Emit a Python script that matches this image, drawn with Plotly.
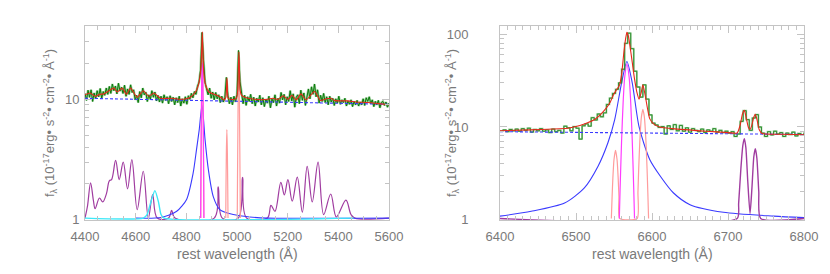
import numpy as np
import plotly.graph_objects as go

# ---------------- LEFT PANEL (H-beta region) ----------------
GREEN_L_START, GREEN_L_STEP = 4400, 6
green_l = [
    11.2, 9.8, 11.9, 10.4, 12.0, 9.6, 11.3, 10.1, 11.8, 10.5,
    12.3, 10.2, 11.6, 10.8, 12.4, 11.0, 12.8, 11.2, 13.4, 11.8,
    12.9, 11.1, 13.6, 11.7, 12.6, 11.2, 13.1, 10.6, 12.2, 11.0,
    13.2, 11.4, 12.0, 9.9, 10.8, 9.4, 11.6, 10.3, 12.4, 10.9,
    11.5, 9.6, 10.9, 10.0, 11.8, 10.4, 11.5, 9.7, 10.8, 9.5,
    10.6, 9.3, 10.9, 9.8, 10.5, 9.2, 10.7, 9.6, 10.4, 9.0,
    10.3, 9.4, 10.6, 8.8, 10.1, 9.3, 10.5, 9.1, 10.7, 10.0,
    11.2, 10.3, 11.6, 11.0, 12.8, 13.9, 17.5, 36.0, 21.0, 13.8,
    12.2, 10.9, 12.4, 10.2, 11.5, 9.9, 11.4, 10.1, 10.9, 9.4,
    10.6, 9.5, 10.3, 15.2, 10.8, 9.2, 10.4, 9.0, 10.6, 9.5,
    11.0, 25.5, 14.0, 10.6, 9.2, 10.8, 8.9, 10.5, 9.6, 11.0,
    9.2, 10.4, 8.8, 10.2, 9.5, 10.8, 9.0, 10.3, 8.7, 10.0,
    9.3, 10.6, 8.5, 10.1, 9.4, 10.9, 8.8, 10.2, 9.3, 11.4,
    9.9, 11.0, 9.0, 10.5, 9.6, 11.8, 9.7, 11.1, 8.6, 10.4,
    10.9, 9.2, 11.9, 9.8, 11.3, 8.9, 10.6, 12.2, 10.1, 12.7,
    11.0, 13.4, 10.5, 12.0, 9.3, 10.8, 9.6, 11.2, 9.4, 10.5,
    9.0, 10.6, 9.5, 10.2, 8.9, 10.1, 9.3, 10.6, 9.1, 9.9,
    9.4, 10.2, 8.8, 9.7, 9.1, 9.9, 8.7, 9.6, 9.0, 9.8,
    8.8, 9.5, 9.0, 10.1, 8.9, 10.3, 9.6, 10.5, 9.2, 9.9,
    8.7, 9.6, 9.0, 9.8, 8.5, 9.4, 9.6, 8.9, 9.5, 8.6,
    9.3,
]

red_l_wave = [4400, 4420, 4440, 4458, 4475, 4495, 4514, 4527, 4547, 4564, 4580, 4606,
              4630, 4652, 4672, 4698, 4740, 4777, 4800, 4816, 4836, 4845, 4852, 4858,
              4861, 4863, 4865, 4868, 4873, 4880, 4889, 4916, 4935, 4950, 4956, 4959,
              4960.5, 4962, 4965, 4975, 4990, 4998, 5003, 5005, 5007.5, 5010, 5012,
              5018, 5031, 5070, 5122, 5140, 5162, 5182, 5201, 5217, 5234, 5253, 5273,
              5306, 5329, 5352, 5370, 5385, 5410, 5437, 5470, 5516, 5560, 5600]
red_l_flux = [10.9, 11.3, 10.6, 11.0, 11.1, 11.8, 12.4, 11.5, 12.4, 11.0, 12.4, 10.4,
              11.8, 10.6, 11.3, 10.2, 10.2, 10.0, 10.1, 10.4, 11.5, 12.6, 14.5, 19.0,
              27.0, 36.5, 27.0, 18.0, 14.0, 12.5, 11.5, 10.9, 10.4, 9.9, 10.4, 13.0,
              15.0, 13.0, 10.2, 10.0, 10.0, 10.3, 12.0, 17.0, 24.9, 17.0, 12.0,
              10.8, 10.4, 10.0, 10.0, 10.2, 10.0, 10.7, 10.0, 10.8, 9.9, 11.1, 9.9,
              11.6, 9.8, 10.1, 10.2, 9.8, 9.7, 9.7, 9.5, 9.4, 9.2, 9.0]

cont_l_wave = [4400, 5600]
cont_l_flux = [10.2, 9.1]

feii_wave = [4400, 4410, 4422, 4433, 4440, 4457, 4470, 4485, 4496, 4505, 4521, 4535,
             4551, 4568, 4585, 4606, 4630, 4650, 4667, 4685, 4730, 4742, 4755, 4910,
             4926, 4942, 5005, 5022, 5038, 5120, 5134, 5150, 5173, 5187, 5201, 5218,
             5238, 5258, 5277, 5297, 5320, 5342, 5370, 5392, 5430, 5450, 5465, 5600]
feii_flux = [1.0, 1.3, 2.02, 1.45, 1.23, 1.51, 1.4, 1.65, 2.1, 2.15, 3.1, 2.15,
             3.0, 1.8, 3.15, 1.21, 2.52, 1.02, 1.61, 1.0, 1.0, 1.19, 1.0, 1.0,
             1.87, 1.0, 1.0, 2.24, 1.0, 1.0, 1.31, 1.17, 2.04, 1.6, 2.15, 1.42,
             2.25, 1.15, 2.77, 1.4, 3.0, 1.1, 1.63, 1.05, 1.45, 1.1, 1.0, 1.0]

hb_broad_wave = [4600, 4700, 4762, 4801, 4827, 4840, 4851, 4862, 4874, 4887, 4906,
                 4932, 4985, 5050, 5120, 5600]
hb_broad_flux = [1.0, 1.04, 1.17, 1.47, 2.44, 3.8, 5.6, 9.0, 4.6, 2.6, 1.56,
                 1.21, 1.1, 1.05, 1.0, 1.0]

hb_narrow_wave = [4856.5, 4857.5, 4858.5, 4860, 4861.5, 4863, 4864.5, 4866, 4867.5, 4868.5, 4869.5]
hb_narrow_flux = [1.0, 2.3, 4.75, 10.5, 17.0, 20.0, 17.0, 10.5, 4.75, 2.3, 1.0]

hb_core_wave = [4857, 4858, 4860, 4861.5, 4863, 4864.5, 4866, 4868, 4869]
hb_core_flux = [1.0, 2.5, 9.0, 19.0, 26.0, 19.0, 9.0, 2.5, 1.0]

oiii4959_wave = [4955.5, 4956.5, 4958, 4960, 4962, 4963.5, 4964.5]
oiii4959_flux = [1.0, 1.8, 3.6, 5.6, 3.6, 1.8, 1.0]

oiii5007_wave = [5001, 5002, 5003.5, 5005, 5007, 5009, 5010.5, 5012, 5013]
oiii5007_flux = [1.0, 2.2, 5.5, 13.0, 24.0, 13.0, 5.5, 2.2, 1.0]

heii_wave = [4400, 4630, 4645, 4660, 4676, 4690, 4700, 4712, 5460]
heii_flux = [1.0, 1.0, 1.1, 1.4, 1.74, 1.4, 1.1, 1.0, 1.0]

# ---------------- RIGHT PANEL (H-alpha region) ----------------
GREEN_R_START, GREEN_R_STEP = 6400, 4
green_r = [
    9.0, 9.3, 8.9, 9.4, 9.1, 9.5, 9.0, 9.6, 9.2, 9.7,
    8.8, 9.4, 9.1, 9.6, 9.0, 9.3, 8.7, 9.5, 8.9, 9.2,
    8.6, 10.2, 9.8, 9.1, 10.1, 9.7, 7.4, 10.3, 10.8, 10.2,
    12.6, 11.9, 13.8, 12.9, 14.2, 17.5, 20.5, 23.0, 25.5, 30.0,
    42.0, 80.0, 103.0, 70.0, 40.0, 27.0, 21.0, 28.5, 20.0, 13.5,
    11.0, 10.5, 9.9, 10.1, 8.4, 10.3, 9.4, 10.6, 9.1, 10.4,
    9.0, 9.8, 8.8, 9.6, 9.2, 8.9, 9.5, 8.7, 9.3, 9.0,
    9.6, 8.8, 9.2, 8.7, 9.0, 8.6, 8.9, 7.9, 8.4, 11.5,
    15.0, 12.0, 9.2, 12.5, 13.6, 10.0, 8.6, 7.9, 8.9, 8.2,
    9.0, 8.4, 8.7, 7.9, 8.6, 8.3, 8.8, 8.0, 8.5, 8.2,
    8.7,
]

red_r_wave = [6400, 6440, 6470, 6489, 6500, 6510, 6525, 6537, 6545, 6549, 6553, 6557,
              6560, 6563, 6565.5, 6567, 6569, 6571, 6574, 6577, 6580, 6583, 6585.5,
              6588, 6591, 6594, 6597, 6602, 6610, 6627, 6671, 6700, 6712, 6716, 6719,
              6721.5, 6724, 6727, 6729, 6731, 6734, 6736, 6738, 6741, 6745, 6770, 6800]
red_r_flux = [9.1, 9.3, 9.5, 9.7, 10.1, 10.7, 12.1, 15.0, 18.5, 22.0, 25.0, 28.0,
              37.0, 64.0, 92.0, 105.0, 95.0, 75.0, 50.0, 33.0, 24.0, 20.0, 23.0,
              28.5, 22.0, 16.0, 12.3, 10.8, 10.0, 9.6, 9.0, 8.7, 8.6, 10.5, 13.8,
              15.1, 12.5, 9.8, 9.4, 10.2, 12.8, 13.7, 12.2, 9.4, 8.5, 8.35, 8.25]

cont_r_wave = [6400, 6800]
cont_r_flux = [8.9, 8.3]

ha_broad_wave = [6400, 6441, 6485, 6511, 6529, 6542, 6551, 6560, 6567, 6574, 6583,
                 6597, 6611, 6628, 6650, 6694, 6760, 6800]
ha_broad_flux = [1.09, 1.23, 1.51, 2.2, 3.77, 6.76, 12.1, 30.0, 51.0, 30.0, 10.0,
                 4.46, 2.94, 1.95, 1.45, 1.2, 1.09, 1.05]

ha_narrow_wave = [6557, 6558, 6560, 6562, 6564, 6567, 6570, 6572, 6574, 6576, 6577]
ha_narrow_flux = [1.0, 2.1, 7.2, 18.3, 34.0, 48.0, 34.0, 18.3, 7.2, 2.1, 1.0]

nii_wave = [6546.5, 6547.5, 6548.5, 6550, 6552, 6554, 6555.5, 6556.5, 6557.5,
            6580.5, 6581.5, 6582.5, 6584, 6586, 6588, 6590, 6592, 6593.5, 6594.5, 6595.5]
nii_flux = [1.0, 1.77, 2.79, 4.46, 5.6, 4.46, 2.79, 1.77, 1.0,
            1.0, 1.97, 3.54, 7.1, 12.7, 15.5, 12.7, 7.1, 3.54, 1.97, 1.0]

sii_wave = [6400, 6712, 6714, 6717, 6719.5, 6721.5, 6723.5, 6726, 6729, 6731.5,
            6734, 6736, 6738, 6740.5, 6743, 6800]
sii_flux = [1.0, 1.0, 1.5, 3.6, 6.3, 7.47, 6.0, 2.6, 1.16, 2.2,
            4.8, 5.82, 4.6, 2.0, 1.0, 1.0]

# ---------------- styling ----------------
W, H = 830, 274
L_X0, L_X1 = 85, 389
R_X0, R_X1 = 500, 804
Y_TOP, Y_BOT = 26, 220
YR_L = [-0.004, 1.61]
YR_R = [-0.004, 2.09]

GREEN_DARK = "#0a7a0a"
GREEN_LIGHT = "rgba(40,150,40,0.45)"
RED = "#e8281c"
BLUE = "#3a3aff"
MAGENTA = "#ff3cff"
PINK = "#ff9c9c"
PURPLE = "#a03ca0"
CYAN = "#3ce8f8"
AXCOL = "#c4c4c4"
TXTCOL = "#7a7a7a"
FONT = "Liberation Sans"

fig = go.Figure()


def floor(vals, yr):
    # values below the axis minimum are drawn along the bottom edge
    f = 10 ** (yr[0] + 0.016)
    return np.maximum(np.asarray(vals, float), f)


def add(x, y, xa, ya, yr, color, width=1.0, shape="spline", dash=None, smoothing=0.8):
    fig.add_trace(go.Scatter(
        x=x, y=floor(y, yr), xaxis=xa, yaxis=ya, mode="lines",
        line=dict(color=color, width=width, shape=shape, dash=dash,
                  **({"smoothing": smoothing} if shape == "spline" else {})),
        hoverinfo="skip", showlegend=False))


# left panel traces
gl_x = GREEN_L_START + GREEN_L_STEP * np.arange(len(green_l))
add(feii_wave, feii_flux, "x", "y", YR_L, PURPLE, 1.2, smoothing=1.0)
add(hb_broad_wave, hb_broad_flux, "x", "y", YR_L, BLUE, 1.1, smoothing=0.7)
add(heii_wave, heii_flux, "x", "y", YR_L, CYAN, 1.4, smoothing=0.6)
add(hb_core_wave, hb_core_flux, "x", "y", YR_L, PINK, 1.2, smoothing=0.6)
add(oiii4959_wave, oiii4959_flux, "x", "y", YR_L, PINK, 1.2, smoothing=0.6)
add(oiii5007_wave, oiii5007_flux, "x", "y", YR_L, PINK, 1.2, smoothing=0.6)
add(hb_narrow_wave, hb_narrow_flux, "x", "y", YR_L, MAGENTA, 1.2, smoothing=0.6)
add(gl_x, green_l, "x", "y", YR_L, GREEN_LIGHT, 2.4, shape="linear")
add(gl_x, green_l, "x", "y", YR_L, GREEN_DARK, 1.0, shape="linear")
add(cont_l_wave, cont_l_flux, "x", "y", YR_L, BLUE, 1.1, shape="linear", dash="3px,2px")
add(red_l_wave, red_l_flux, "x", "y", YR_L, RED, 1.1, smoothing=0.6)

# right panel traces
gr_x = GREEN_R_START + GREEN_R_STEP * np.arange(len(green_r))
add(ha_broad_wave, ha_broad_flux, "x2", "y2", YR_R, BLUE, 1.1, smoothing=0.7)
add(nii_wave, nii_flux, "x2", "y2", YR_R, PINK, 1.2, smoothing=0.6)
add(ha_narrow_wave, ha_narrow_flux, "x2", "y2", YR_R, MAGENTA, 1.2, smoothing=0.6)
add(sii_wave, sii_flux, "x2", "y2", YR_R, PURPLE, 1.4, smoothing=0.6)
add(gr_x, green_r, "x2", "y2", YR_R, "rgba(60,160,60,0.5)", 1.8, shape="hv")
add(gr_x, green_r, "x2", "y2", YR_R, "#2f8f2f", 1.0, shape="hv")
add(cont_r_wave, cont_r_flux, "x2", "y2", YR_R, BLUE, 1.1, shape="linear", dash="3px,2px")
add(red_r_wave, red_r_flux, "x2", "y2", YR_R, RED, 1.1, smoothing=0.6)

minor_log = [2, 3, 4, 5, 6, 7, 8, 9, 20, 30, 40, 50, 60, 70, 80, 90]

common_ax = dict(showline=True, linecolor=AXCOL, linewidth=1, mirror="allticks",
                 ticks="inside", tickcolor=AXCOL, ticklen=7, tickwidth=1,
                 showgrid=False, zeroline=False, automargin=False,
                 tickfont=dict(family=FONT, size=13, color=TXTCOL))

ydom = [(H - Y_BOT) / H, (H - Y_TOP) / H]

fig.update_layout(
    template="none",
    width=W, height=H, margin=dict(l=0, r=0, t=0, b=0, pad=0, autoexpand=False),
    paper_bgcolor="white", plot_bgcolor="white",
    xaxis=dict(domain=[L_X0 / W, L_X1 / W], range=[4400, 5600], anchor="y",
               tickvals=list(range(4400, 5601, 200)), ticklabelstandoff=4,
               minor=dict(dtick=50, ticks="inside", ticklen=4, tickcolor=AXCOL, showgrid=False),
               **common_ax),
    yaxis=dict(domain=ydom, type="log", range=YR_L, anchor="x",
               tickvals=[1, 10], ticktext=["1", "10"], ticklabelstandoff=2,
               minor=dict(tickvals=minor_log, ticks="inside", ticklen=4, tickcolor=AXCOL, showgrid=False),
               **common_ax),
    xaxis2=dict(domain=[R_X0 / W, R_X1 / W], range=[6400, 6800], anchor="y2",
                tickvals=list(range(6400, 6801, 100)), ticklabelstandoff=4,
                minor=dict(dtick=10, ticks="inside", ticklen=4, tickcolor=AXCOL, showgrid=False),
                **common_ax),
    yaxis2=dict(domain=ydom, type="log", range=YR_R, anchor="x2",
                tickvals=[1, 10, 100], ticktext=["1", "10", "100"], ticklabelstandoff=28,
                minor=dict(tickvals=minor_log, ticks="inside", ticklen=4, tickcolor=AXCOL, showgrid=False),
                **common_ax),
)

ytitle = "f<sub>λ</sub> (10<sup>-17</sup>erg• s<sup>-2</sup>• cm<sup>-2</sup>• Å<sup>-1</sup>)"
xtitle = "rest wavelength (Å)"
tf = dict(family=FONT, size=13, color=TXTCOL)
for xc in (50, 452):
    fig.add_annotation(x=xc / W, y=1 - 123 / H, xref="paper", yref="paper",
                       text=ytitle, textangle=-90, showarrow=False, font=tf,
                       xanchor="center", yanchor="middle")
for xc in ((L_X0 + L_X1) / 2, (R_X0 + R_X1) / 2):
    fig.add_annotation(x=xc / W, y=1 - 254 / H, xref="paper", yref="paper",
                       text=xtitle, showarrow=False, font=dict(family=FONT, size=14, color=TXTCOL),
                       xanchor="center", yanchor="middle")

fig.write_html(
    "out.html",
    config={"displayModeBar": False},
    post_script="document.body.style.margin='0';document.body.style.overflow='hidden';"
                "document.documentElement.style.overflow='hidden';",
)
